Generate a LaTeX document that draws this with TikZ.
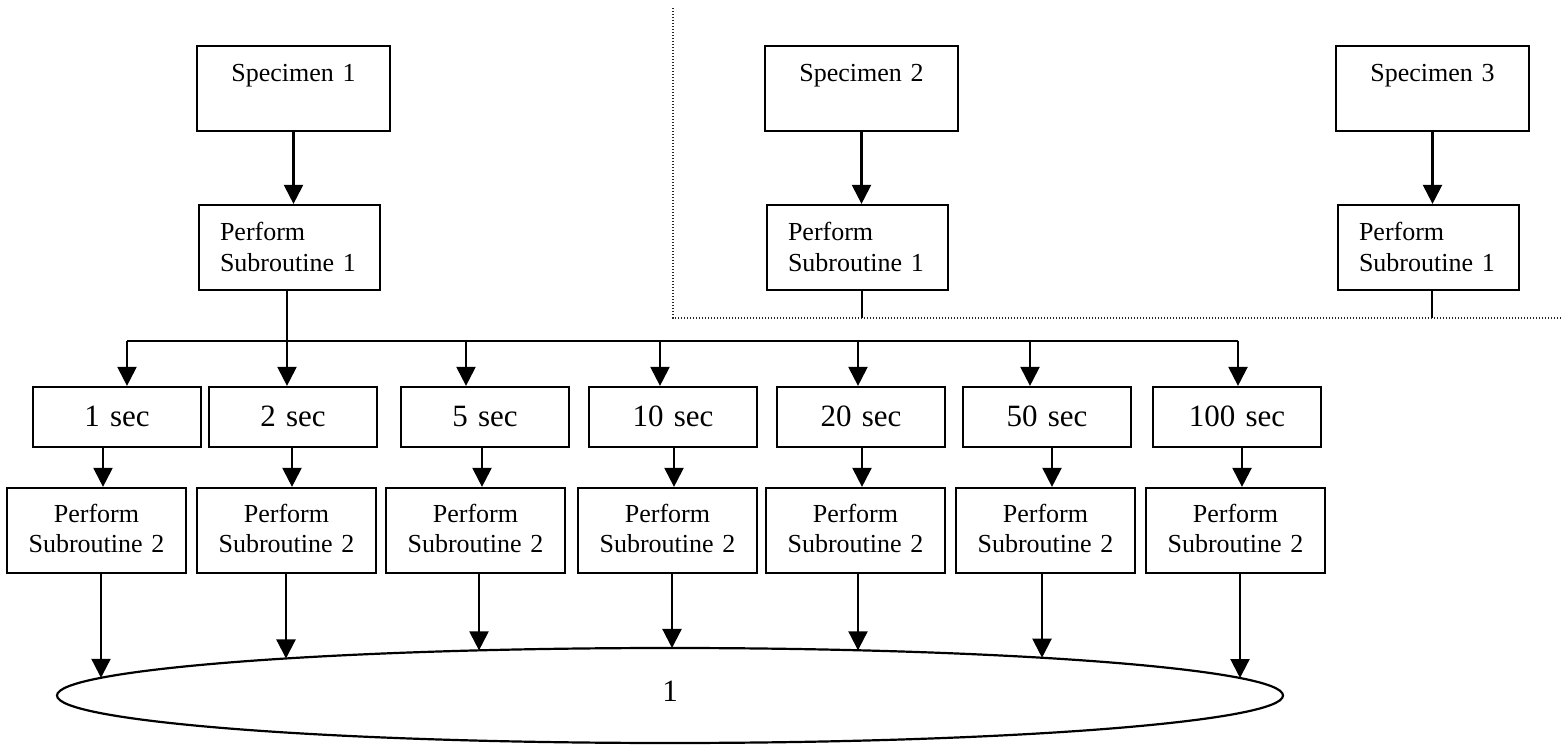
\documentclass[tikz,border=0pt]{standalone}
\usepackage{fontspec}
\setmainfont{Liberation Serif}
\usetikzlibrary{arrows.meta,shapes.geometric}
\begin{document}
\begin{tikzpicture}[x=0.5pt,y=-0.5pt,
  box/.style={draw,line width=1.1pt,rectangle,inner sep=0pt},
  specbox/.style={box,text width=96.5pt,align=center,text height=18pt,text depth=24.5pt,font=\fontsize{13pt}{15.5pt}\selectfont},
  subonebox/.style={box,inner xsep=10.5pt,inner ysep=0pt,text width=69.5pt,align=left,text height=17.85pt,text depth=24.65pt,font=\fontsize{13pt}{15.5pt}\selectfont},
  secbox/.style={box,text width=84pt,align=center,text height=20pt,text depth=10pt,font=\fontsize{15.5pt}{18pt}\selectfont},
  subtwobox/.style={box,text width=89.5pt,align=center,text height=17.35pt,text depth=25.15pt,font=\fontsize{13pt}{14.8pt}\selectfont},
  resultell/.style={draw,line width=1.1pt,ellipse,inner sep=0pt,minimum width=613pt,minimum height=47.5pt,text height=10pt,text depth=4.5pt,font=\fontsize{15.5pt}{18pt}\selectfont},
  arr/.style={-{Triangle[length=9.5pt,width=9.5pt]},line width=1.1pt},
  plain/.style={line width=1.1pt},
  dots/.style={line width=0.7pt,dash pattern=on 0.7pt off 0.8pt,black!85}]
\useasboundingbox (0,0) rectangle (1562,747);

% specimens
\node[specbox] (spec1) at (293.5,88.5) {Specimen 1};
\node[specbox] (spec2) at (861.5,88.5) {Specimen 2};
\node[specbox] (spec3) at (1432.5,88.5) {Specimen 3};

% subroutine 1
\node[subonebox] (psa) at (289.5,247.5) {Perform\\Subroutine 1};
\node[subonebox] (psb) at (857.5,247.5) {Perform\\Subroutine 1};
\node[subonebox] (psc) at (1428.5,247.5) {Perform\\Subroutine 1};

\draw[arr] (spec1.south) -- (spec1.south |- psa.north);
\draw[arr] (spec2.south) -- (spec2.south |- psb.north);
\draw[arr] (spec3.south) -- (spec3.south |- psc.north);

% dotted frame
\coordinate (dtop) at (673,8);
\coordinate (dcorner) at (673,318);
\coordinate (dright) at (1562,318);
\draw[dots] (dtop) -- (dcorner) -- (dright);

\coordinate (db) at (862,318);
\coordinate (dc) at (1432,318);
\draw[plain] (psb.south -| db) -- (db);
\draw[plain] (psc.south -| dc) -- (dc);

% time boxes
\node[secbox] (s1) at (117,417) {1 sec};
\node[secbox] (s2) at (293,417) {2 sec};
\node[secbox] (s5) at (485,417) {5 sec};
\node[secbox] (s10) at (673,417) {10 sec};
\node[secbox] (s20) at (861,417) {20 sec};
\node[secbox] (s50) at (1047,417) {50 sec};
\node[secbox] (s100) at (1237,417) {100 sec};

% bus
\coordinate (b1) at (127,341);
\coordinate (b2) at (287,341);
\coordinate (b3) at (466,341);
\coordinate (b4) at (660,341);
\coordinate (b5) at (858,341);
\coordinate (b6) at (1030,341);
\coordinate (b7) at (1238,341);
\draw[plain] (psa.south -| b2) -- (b2);
\draw[plain] (b1) -- (b7);
\draw[arr] (b1) -- (b1 |- s1.north);
\draw[arr] (b2) -- (b2 |- s2.north);
\draw[arr] (b3) -- (b3 |- s5.north);
\draw[arr] (b4) -- (b4 |- s10.north);
\draw[arr] (b5) -- (b5 |- s20.north);
\draw[arr] (b6) -- (b6 |- s50.north);
\draw[arr] (b7) -- (b7 |- s100.north);

% subroutine 2
\node[subtwobox] (q1) at (96.5,530.5) {Perform\\Subroutine 2};
\node[subtwobox] (q2) at (286.5,530.5) {Perform\\Subroutine 2};
\node[subtwobox] (q3) at (475.5,530.5) {Perform\\Subroutine 2};
\node[subtwobox] (q4) at (667.5,530.5) {Perform\\Subroutine 2};
\node[subtwobox] (q5) at (855.5,530.5) {Perform\\Subroutine 2};
\node[subtwobox] (q6) at (1045.5,530.5) {Perform\\Subroutine 2};
\node[subtwobox] (q7) at (1235.5,530.5) {Perform\\Subroutine 2};

\draw[arr] ([xshift=-7pt]s1.south) -- ([xshift=-7pt]s1.south |- q1.north);
\draw[arr] ([xshift=-0.5pt]s2.south) -- ([xshift=-0.5pt]s2.south |- q2.north);
\draw[arr] ([xshift=-1.5pt]s5.south) -- ([xshift=-1.5pt]s5.south |- q3.north);
\draw[arr] ([xshift=0.5pt]s10.south) -- ([xshift=0.5pt]s10.south |- q4.north);
\draw[arr] ([xshift=0.5pt]s20.south) -- ([xshift=0.5pt]s20.south |- q5.north);
\draw[arr] ([xshift=2.5pt]s50.south) -- ([xshift=2.5pt]s50.south |- q6.north);
\draw[arr] ([xshift=2.5pt]s100.south) -- ([xshift=2.5pt]s100.south |- q7.north);

% result ellipse
\node[resultell] (res) at (670,695.5) {1};
\coordinate (e1) at (101,677.8);
\coordinate (e2) at (286,658.5);
\coordinate (e3) at (479,650.4);
\coordinate (e4) at (672,648);
\coordinate (e5) at (858,650.3);
\coordinate (e6) at (1042,657.7);
\coordinate (e7) at (1240,678.0);
\draw[arr] (q1.south -| e1) -- (e1);
\draw[arr] (q2.south -| e2) -- (e2);
\draw[arr] (q3.south -| e3) -- (e3);
\draw[arr] (q4.south -| e4) -- (e4);
\draw[arr] (q5.south -| e5) -- (e5);
\draw[arr] (q6.south -| e6) -- (e6);
\draw[arr] (q7.south -| e7) -- (e7);
\end{tikzpicture}
\end{document}
